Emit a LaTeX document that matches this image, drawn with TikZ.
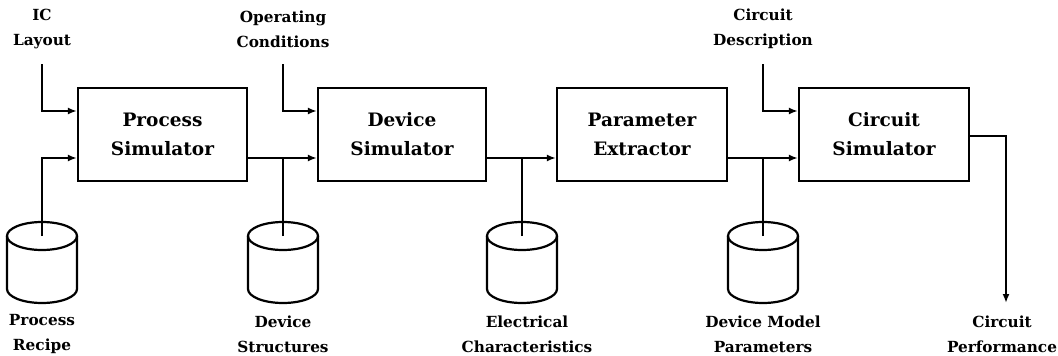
\documentclass[tikz,border=0pt]{standalone}
\usepackage{fontspec}
\setmainfont{DejaVu Serif}
\usetikzlibrary{arrows.meta,calc}
\tikzset{
  blk/.style={draw, line width=2.2pt, minimum width=169pt, minimum height=93pt, align=center,
    inner sep=0pt, font=\fontsize{18.5}{29}\selectfont\bfseries},
  lbl/.style={align=center, inner sep=0pt, font=\fontsize{15.3}{25}\selectfont\bfseries},
  wire/.style={line width=2.2pt},
  arr/.style={line width=2.2pt, -{Latex[length=9pt,width=7pt]}},
  cyl/.style={line width=2.2pt}
}
\newcommand{\mydb}[2]{% x, name
  \draw[cyl] (#1,-236) ellipse (35pt and 14pt);
  \draw[cyl] (#1-35,-236) -- (#1-35,-289) arc (180:360:35pt and 14pt) -- (#1+35,-236);
  \coordinate (#2) at (#1,-236);
}
\begin{document}
\begin{tikzpicture}[x=1pt,y=1pt]
\useasboundingbox (0,0) rectangle (1058,-356);
% level coordinates
\coordinate (yA) at (0,-111);
\coordinate (yB) at (0,-158);
\coordinate (yC) at (0,-136);
% blocks
\node[blk] (ps) at (162.5,-134.5) {Process\\Simulator};
\node[blk, minimum width=168pt] (dv) at (402,-134.5) {Device\\Simulator};
\node[blk, minimum width=170pt] (pe) at (642,-134.5) {Parameter\\Extractor};
\node[blk, minimum width=170pt] (cs) at (884,-134.5) {Circuit\\Simulator};
% top labels
\node[lbl] (lic) at (42,-29) {IC\\Layout};
\node[lbl] (loc) at (283,-29) {Operating\\Conditions};
\node[lbl] (lcd) at (763,-29) {Circuit\\Description};
\coordinate (tic) at (42,-64);
\coordinate (toc) at (283,-64);
\coordinate (tcd) at (763,-64);
% databases
\mydb{42}{d1}
\mydb{283}{d2}
\mydb{522}{d3}
\mydb{763}{d4}
% bottom labels
\node[lbl] (lpr) at (42,-334) {Process\\Recipe};
\node[lbl] (lds) at (283,-334) {Device\\Structures};
\node[lbl] (lec) at (527,-334) {Electrical\\Characteristics};
\node[lbl] (ldm) at (763,-334) {Device Model\\Parameters};
\node[lbl] (lcp) at (1002,-334) {Circuit\\Performance};
\coordinate (out) at (1006,-303);
% top inputs
\draw[arr] (tic) |- (ps.west |- yA);
\draw[arr] (toc) |- (dv.west |- yA);
\draw[arr] (tcd) |- (cs.west |- yA);
% database input to process simulator
\draw[arr] (d1) |- (ps.west |- yB);
% main flow
\draw[arr] (ps.east |- yB) -- (dv.west |- yB);
\draw[arr] (dv.east |- yB) -- (pe.west |- yB);
\draw[arr] (pe.east |- yB) -- (cs.west |- yB);
% database taps
\draw[wire] (d2) -- (d2 |- yB);
\draw[wire] (d3) -- (d3 |- yB);
\draw[wire] (d4) -- (d4 |- yB);
% output
\draw[arr] (cs.east |- yC) -| (out);
\end{tikzpicture}
\end{document}
